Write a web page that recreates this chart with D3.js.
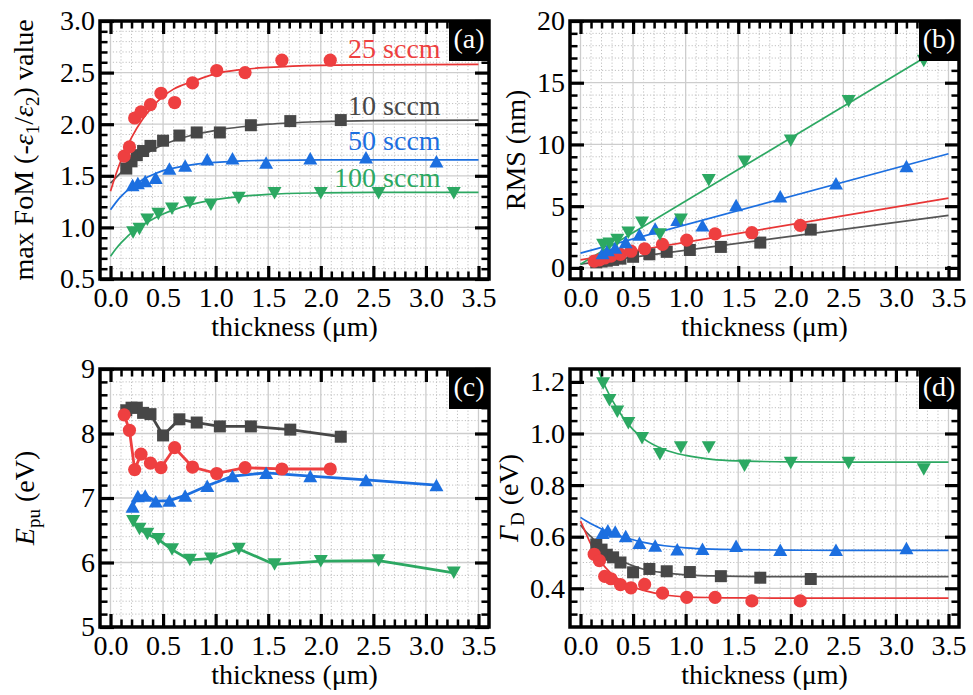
<!DOCTYPE html>
<html>
<head>
<meta charset="utf-8">
<script src="https://cdn.jsdelivr.net/npm/d3@7"></script>
<style>
  body { margin: 0; background: #fff; }
  text { font-family: "Liberation Serif", "Times New Roman", serif; }
</style>
</head>
<body>
<svg id="chart" width="973" height="695"></svg>
<script>
// film thickness (um) of each sample, per gas flow
const thick10 = [0.15, 0.20, 0.25, 0.31, 0.38, 0.50, 0.655, 0.82, 1.04, 1.335, 1.71, 2.19]
const thick25 = [0.13, 0.18, 0.23, 0.29, 0.38, 0.48, 0.61, 0.78, 1.01, 1.28, 1.63, 2.09]
const thick50 = [0.21, 0.26, 0.33, 0.43, 0.56, 0.71, 0.92, 1.16, 1.48, 1.90, 2.43, 3.10]
const thick100 = [0.215, 0.275, 0.35, 0.455, 0.585, 0.755, 0.955, 1.22, 1.56, 2.00, 2.55, 3.265]

// (a) max FoM
const fom10 = [1.57, 1.64, 1.70, 1.74, 1.79, 1.84, 1.89, 1.92, 1.92, 1.99, 2.03, 2.04]
const fom25 = [1.69, 1.78, 2.06, 2.12, 2.19, 2.30, 2.21, 2.40, 2.52, 2.50, 2.62, 2.62]
const fom50 = [1.41, 1.43, 1.45, 1.48, 1.57, 1.60, 1.66, 1.67, 1.63, 1.67, 1.68, 1.64]
const fom100 = [0.95, 0.985, 1.075, 1.13, 1.18, 1.24, 1.22, 1.285, 1.33, 1.33, 1.33, 1.33]

// (b) RMS roughness (nm)
const rms10 = [0.45, 0.52, 0.58, 0.65, 0.75, 0.90, 1.10, 1.30, 1.45, 1.70, 2.05, 3.10]
const rms25 = [0.55, 0.65, 0.80, 0.95, 1.10, 1.35, 1.55, 1.90, 2.25, 2.75, 2.85, 3.45]
const rms50 = [1.20, 1.45, 1.65, 2.10, 2.70, 3.20, 3.90, 3.45, 5.10, 5.80, 6.85, 8.25]
const rms100 = [1.85, 1.95, 2.25, 2.85, 3.65, 2.70, 3.90, 7.10, 8.60, 10.3, 13.5, 16.75]

// (c) E_pu (eV)
const epu10 = [8.36, 8.40, 8.40, 8.32, 8.30, 7.97, 8.22, 8.17, 8.11, 8.11, 8.06, 7.95]
const epu25 = [8.29, 8.05, 7.44, 7.68, 7.54, 7.47, 7.78, 7.48, 7.38, 7.47, 7.45, 7.45]
const epu50 = [6.87, 7.03, 7.04, 6.95, 6.96, 7.04, 7.19, 7.34, 7.39, 7.34, 7.28, 7.20]
const epu100 = [6.64, 6.52, 6.44, 6.36, 6.20, 6.04, 6.06, 6.21, 5.97, 6.02, 6.03, 5.84]

// (d) Gamma_D (eV)
const gamma10 = [0.57, 0.55, 0.53, 0.52, 0.50, 0.462, 0.475, 0.466, 0.463, 0.447, 0.441, 0.436]
const gamma25 = [0.532, 0.507, 0.446, 0.437, 0.414, 0.402, 0.415, 0.381, 0.365, 0.365, 0.351, 0.351]
const gamma50 = [0.615, 0.625, 0.62, 0.603, 0.577, 0.566, 0.551, 0.553, 0.565, 0.549, 0.549, 0.556]
const gamma100 = [1.194, 1.129, 1.084, 1.04, 0.982, 0.92, 0.946, 0.946, 0.875, 0.886, 0.886, 0.86]

// fitted curves
const fitT = [0, 0.05, 0.1, 0.15, 0.2, 0.3, 0.4, 0.5, 0.6, 0.8, 1.0, 1.25, 1.5, 2.0, 2.5, 3.5]
const fomFit10 = [1.43, 1.48, 1.53, 1.58, 1.62, 1.69, 1.75, 1.80, 1.84, 1.90, 1.94, 1.975, 2.0, 2.025, 2.035, 2.04]
const fomFit25 = [1.35, 1.51, 1.65, 1.77, 1.87, 2.04, 2.17, 2.27, 2.34, 2.42, 2.49, 2.53, 2.55, 2.57, 2.575, 2.58]
const fomFit50 = [1.17, 1.24, 1.30, 1.35, 1.39, 1.46, 1.51, 1.55, 1.575, 1.61, 1.63, 1.645, 1.65, 1.655, 1.655, 1.655]
const fomFit100 = [0.72, 0.79, 0.85, 0.90, 0.95, 1.02, 1.08, 1.13, 1.17, 1.23, 1.27, 1.30, 1.32, 1.335, 1.34, 1.34]
const gammaFit10 = [0.645, 0.62, 0.60, 0.578, 0.56, 0.53, 0.505, 0.487, 0.474, 0.46, 0.452, 0.448, 0.446, 0.445, 0.445, 0.445]
const gammaFit25 = [0.66, 0.615, 0.57, 0.535, 0.50, 0.455, 0.425, 0.405, 0.392, 0.375, 0.367, 0.364, 0.363, 0.362, 0.362, 0.362]
const gammaFit50 = [0.675, 0.662, 0.65, 0.64, 0.63, 0.613, 0.60, 0.588, 0.578, 0.565, 0.557, 0.552, 0.55, 0.548, 0.547, 0.547]
const gammaFit100 = [1.42, 1.37, 1.32, 1.27, 1.215, 1.13, 1.065, 1.015, 0.98, 0.937, 0.915, 0.90, 0.894, 0.89, 0.889, 0.889]
const rmsFitT = [0, 3.5]
const rmsFit10 = [0.3, 4.25]
const rmsFit25 = [0.65, 5.65]
const rmsFit50 = [1.2, 9.25]
const rmsFit100 = [0.3, 18.2]

// tick labels
const xTicks = [0, 0.5, 1.0, 1.5, 2.0, 2.5, 3.0, 3.5]
const fomTicks = [0.5, 1.0, 1.5, 2.0, 2.5, 3.0]
const rmsTicks = [0, 5, 10, 15, 20]
const epuTicks = [5, 6, 7, 8, 9]
const gammaTicks = [0.4, 0.6, 0.8, 1.0, 1.2]

const series = [
  {key: '10', label: '10 sccm', shape: 'square', color: '#474747', line: '#555555', t: thick10,
    fom: fom10, rms: rms10, epu: epu10, gamma: gamma10,
    fomFit: fomFit10, rmsFit: rmsFit10, gammaFit: gammaFit10},
  {key: '25', label: '25 sccm', shape: 'circle', color: '#ee3f40', line: '#e83535', t: thick25,
    fom: fom25, rms: rms25, epu: epu25, gamma: gamma25,
    fomFit: fomFit25, rmsFit: rmsFit25, gammaFit: gammaFit25},
  {key: '50', label: '50 sccm', shape: 'up', color: '#1c6fe0', line: '#1c6fe0', t: thick50,
    fom: fom50, rms: rms50, epu: epu50, gamma: gamma50,
    fomFit: fomFit50, rmsFit: rmsFit50, gammaFit: gammaFit50},
  {key: '100', label: '100 sccm', shape: 'down', color: '#2ca862', line: '#2ca862', t: thick100,
    fom: fom100, rms: rms100, epu: epu100, gamma: gamma100,
    fomFit: fomFit100, rmsFit: rmsFit100, gammaFit: gammaFit100}
]

const panels = [
  {id: 'a', left: 100, right: 489, top: 21, bottom: 279, yDomain: [0.5, 3.0], yTicks: fomTicks,
    yStep: 0.1, fmt: '.1f', field: 'fom', fit: 'fomFit', fitX: fitT, titleX: 33},
  {id: 'b', left: 570, right: 959, top: 21, bottom: 279, yDomain: [-0.9, 20], yTicks: rmsTicks,
    yStep: 1, fmt: 'd', field: 'rms', fit: 'rmsFit', fitX: rmsFitT, titleX: 525},
  {id: 'c', left: 100, right: 489, top: 369, bottom: 627, yDomain: [5, 9], yTicks: epuTicks,
    yStep: 0.2, fmt: 'd', field: 'epu', fit: null, titleX: 34},
  {id: 'd', left: 570, right: 959, top: 369, bottom: 627, yDomain: [0.25, 1.25], yTicks: gammaTicks,
    yStep: 0.05, fmt: '.1f', field: 'gamma', fit: 'gammaFit', fitX: fitT, titleX: 518}
]

const yTitles = {
  a: [{t: 'max FoM (-'}, {t: 'ε', i: true}, {t: '1', sub: true}, {t: '/'}, {t: 'ε', i: true}, {t: '2', sub: true}, {t: ') value'}],
  b: [{t: 'RMS (nm)'}],
  c: [{t: 'E', i: true}, {t: 'pu', sub: true}, {t: ' (eV)'}],
  d: [{t: 'Γ', i: true}, {t: 'D', sub: true}, {t: ' (eV)'}]
}

const FS = 28
const svg = d3.select('#chart')

function minorValues (domain, step, majors) {
  let out = []
  let start = Math.ceil(domain[0] / step - 1e-9)
  let end = Math.floor(domain[1] / step + 1e-9)
  for (let k = start; k <= end; k += 1) {
    let v = +(k * step).toFixed(4)
    if (Math.abs(v - domain[0]) < 1e-6 || Math.abs(v - domain[1]) < 1e-6) continue
    if (majors.some(m => Math.abs(m - v) < 1e-6)) continue
    out.push(v)
  }
  return out
}

function marker (g, shape, color, px, py) {
  if (shape === 'circle') {
    g.append('circle').attr('cx', px).attr('cy', py).attr('r', 6.6).attr('fill', color)
  } else if (shape === 'square') {
    g.append('rect').attr('x', px - 6).attr('y', py - 6)
      .attr('width', 12).attr('height', 12).attr('fill', color)
  } else {
    let s = 14
    let h = 12.5
    let dir = shape === 'up' ? 1 : -1
    g.append('path')
      .attr('d', `M${px},${py - dir * h / 2}L${px + s / 2},${py + dir * h / 2}L${px - s / 2},${py + dir * h / 2}Z`)
      .attr('fill', color)
  }
}

function richText (sel, parts) {
  let shifted = false
  parts.forEach(p => {
    let ts = sel.append('tspan').text(p.t)
    if (p.i) ts.attr('font-style', 'italic')
    if (p.sub) {
      ts.attr('font-size', FS * 0.68).attr('dy', 6)
      shifted = true
    } else if (shifted) {
      ts.attr('dy', -6)
      shifted = false
    }
  })
}

function styleAxis (g, width) {
  g.select('.domain').remove()
  g.selectAll('.tick line').attr('stroke', '#000').attr('stroke-width', width)
  g.attr('font-family', null).attr('font-size', FS)
  g.selectAll('.tick text').attr('fill', '#000')
}

function drawPanel (p) {
  let x = d3.scaleLinear().domain([-0.1, 3.6]).range([p.left, p.right])
  let y = d3.scaleLinear().domain(p.yDomain).range([p.bottom, p.top])
  let g = svg.append('g')

  let clipId = 'clip-' + p.id
  svg.append('clipPath').attr('id', clipId)
    .append('rect')
    .attr('x', p.left).attr('y', p.top)
    .attr('width', p.right - p.left).attr('height', p.bottom - p.top)

  let xMinor = minorValues([-0.1, 3.6], 0.1, xTicks)
  let yMinor = minorValues(p.yDomain, p.yStep, p.yTicks)

  // grid
  let grid = g.append('g')
  grid.selectAll('.gxm').data(xMinor).enter().append('line')
    .attr('x1', d => x(d)).attr('x2', d => x(d)).attr('y1', p.top).attr('y2', p.bottom)
    .attr('stroke', '#c0c0c0').attr('stroke-width', 1).attr('stroke-dasharray', '1.2,2')
  grid.selectAll('.gym').data(yMinor).enter().append('line')
    .attr('y1', d => y(d)).attr('y2', d => y(d)).attr('x1', p.left).attr('x2', p.right)
    .attr('stroke', '#c0c0c0').attr('stroke-width', 1).attr('stroke-dasharray', '1.2,2')
  grid.selectAll('.gx').data(xTicks).enter().append('line')
    .attr('x1', d => x(d)).attr('x2', d => x(d)).attr('y1', p.top).attr('y2', p.bottom)
    .attr('stroke', '#cdcdcd').attr('stroke-width', 1.3)
  grid.selectAll('.gy').data(p.yTicks).enter().append('line')
    .attr('y1', d => y(d)).attr('y2', d => y(d)).attr('x1', p.left).attr('x2', p.right)
    .attr('stroke', '#cdcdcd').attr('stroke-width', 1.3)

  // series
  let plot = g.append('g').attr('clip-path', `url(#${clipId})`)
  series.forEach(s => {
    if (p.fit) {
      let pts = p.fitX.map((t, i) => [t, s[p.fit][i]])
      plot.append('path')
        .datum(pts)
        .attr('fill', 'none')
        .attr('stroke', s.line)
        .attr('stroke-width', 1.7)
        .attr('d', d3.line().x(d => x(d[0])).y(d => y(d[1])).curve(d3.curveMonotoneX))
    } else {
      let pts = s.t.map((t, i) => [t, s[p.field][i]])
      plot.append('path')
        .datum(pts)
        .attr('fill', 'none')
        .attr('stroke', s.color)
        .attr('stroke-width', 2.8)
        .attr('stroke-linejoin', 'round')
        .attr('d', d3.line().x(d => x(d[0])).y(d => y(d[1])))
    }
  })
  series.forEach(s => {
    let mg = plot.append('g')
    s.t.forEach((t, i) => marker(mg, s.shape, s.color, x(t), y(s[p.field][i])))
  })

  // axes with inward ticks on all four sides
  let bottomAxis = g.append('g').attr('transform', `translate(0,${p.bottom})`)
    .call(d3.axisBottom(x).tickValues(xTicks).tickSize(-13).tickPadding(8).tickFormat(d3.format('.1f')))
  styleAxis(bottomAxis, 3.2)
  let bottomMinor = g.append('g').attr('transform', `translate(0,${p.bottom})`)
    .call(d3.axisBottom(x).tickValues(xMinor).tickSize(-7.5).tickFormat(''))
  styleAxis(bottomMinor, 2.5)
  let topAxis = g.append('g').attr('transform', `translate(0,${p.top})`)
    .call(d3.axisTop(x).tickValues(xTicks).tickSize(-13).tickFormat(''))
  styleAxis(topAxis, 3.2)
  let topMinor = g.append('g').attr('transform', `translate(0,${p.top})`)
    .call(d3.axisTop(x).tickValues(xMinor).tickSize(-7.5).tickFormat(''))
  styleAxis(topMinor, 2.5)

  let leftAxis = g.append('g').attr('transform', `translate(${p.left},0)`)
    .call(d3.axisLeft(y).tickValues(p.yTicks).tickSize(-14).tickPadding(5).tickFormat(d3.format(p.fmt)))
  styleAxis(leftAxis, 3.2)
  let leftMinor = g.append('g').attr('transform', `translate(${p.left},0)`)
    .call(d3.axisLeft(y).tickValues(yMinor).tickSize(-7.5).tickFormat(''))
  styleAxis(leftMinor, 2.5)
  let rightAxis = g.append('g').attr('transform', `translate(${p.right},0)`)
    .call(d3.axisRight(y).tickValues(p.yTicks).tickSize(-14).tickFormat(''))
  styleAxis(rightAxis, 3.2)
  let rightMinor = g.append('g').attr('transform', `translate(${p.right},0)`)
    .call(d3.axisRight(y).tickValues(yMinor).tickSize(-7.5).tickFormat(''))
  styleAxis(rightMinor, 2.5)

  // frame
  g.append('rect')
    .attr('x', p.left).attr('y', p.top)
    .attr('width', p.right - p.left).attr('height', p.bottom - p.top)
    .attr('fill', 'none').attr('stroke', '#000').attr('stroke-width', 3.5)

  // panel letter
  g.append('rect')
    .attr('x', p.right - 40).attr('y', p.top)
    .attr('width', 40).attr('height', 40).attr('fill', '#000')
  g.append('text')
    .attr('x', p.right - 20).attr('y', p.top + 27)
    .attr('text-anchor', 'middle').attr('font-size', FS).attr('fill', '#fff')
    .text(`(${p.id})`)

  // axis titles
  g.append('text')
    .attr('x', (p.left + p.right) / 2).attr('y', p.bottom + 57)
    .attr('text-anchor', 'middle').attr('font-size', FS)
    .text('thickness (μm)')
  let yt = g.append('text')
    .attr('transform', `translate(${p.titleX},${(p.top + p.bottom) / 2}) rotate(-90)`)
    .attr('text-anchor', 'middle').attr('font-size', FS)
  richText(yt, yTitles[p.id])

  return {x, y}
}

let scales = panels.map(drawPanel)

// flow labels in panel (a)
const labelT = 3.14
const labelV = {'25': 2.64, '10': 2.09, '50': 1.75, '100': 1.39}
let sa = scales[0]
series.forEach(s => {
  svg.append('text')
    .attr('x', sa.x(labelT)).attr('y', sa.y(labelV[s.key]))
    .attr('text-anchor', 'end').attr('font-size', FS)
    .attr('fill', s.color)
    .text(s.label)
})
</script>
</body>
</html>
